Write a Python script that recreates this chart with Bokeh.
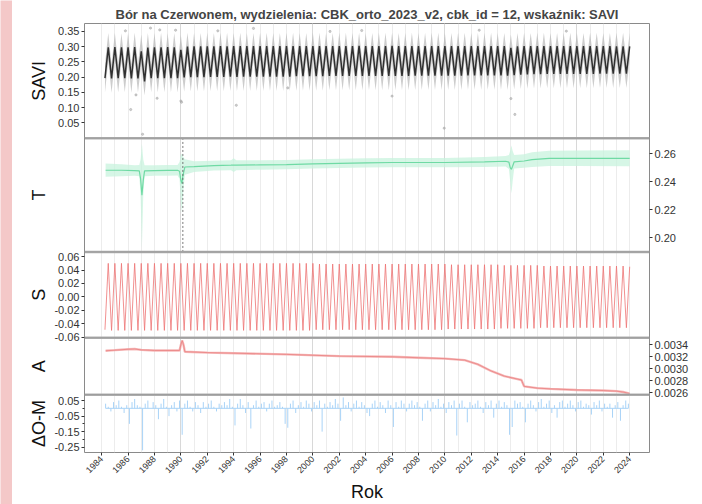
import math
import numpy as np
from bokeh.plotting import figure
from bokeh.layouts import column, row
from bokeh.core.properties import value
from bokeh.models import (FixedTicker, PrintfTickFormatter, LinearAxis, Grid, Range1d, Span,
                          BoxAnnotation, CustomJSTickFormatter)
from bokeh.embed import file_html
from bokeh.resources import INLINE

TITLE = "Bór na Czerwonem, wydzielenia: CBK_orto_2023_v2, cbk_id = 12, wskaźnik: SAVI"
FONT = "Liberation Sans"
PINK = "#f4c8c8"

year_ticks = list(range(1984, 2025, 2))
year_grid = list(range(1984, 2025))
decade_grid = [1990, 2000, 2010, 2020]

# seasonal extremes: trough, peak, trough, peak per year (from 1984.25, every quarter year)
ext_start = 1984.25
ext_step = 0.25

savi_fit_rows = [
    [0.197, 0.298, 0.196, 0.299], [0.197, 0.298, 0.197, 0.298], [0.196, 0.299, 0.196, 0.285],
    [0.186, 0.297, 0.197, 0.298], [0.197, 0.298, 0.197, 0.299], [0.197, 0.298, 0.197, 0.290],
    [0.199, 0.300, 0.200, 0.301], [0.200, 0.301, 0.200, 0.301], [0.201, 0.301, 0.201, 0.302],
    [0.201, 0.301, 0.202, 0.302], [0.201, 0.302, 0.202, 0.302], [0.202, 0.302, 0.202, 0.302],
    [0.202, 0.302, 0.202, 0.302], [0.202, 0.302, 0.202, 0.302], [0.202, 0.302, 0.203, 0.302],
    [0.203, 0.302, 0.203, 0.302], [0.203, 0.302, 0.203, 0.302], [0.204, 0.302, 0.204, 0.302],
    [0.204, 0.302, 0.204, 0.302], [0.204, 0.303, 0.204, 0.302], [0.204, 0.302, 0.204, 0.302],
    [0.204, 0.302, 0.204, 0.303], [0.204, 0.302, 0.204, 0.302], [0.204, 0.302, 0.205, 0.302],
    [0.205, 0.302, 0.205, 0.302], [0.205, 0.302, 0.205, 0.302], [0.205, 0.302, 0.205, 0.302],
    [0.205, 0.302, 0.206, 0.302], [0.206, 0.302, 0.206, 0.302], [0.206, 0.302, 0.206, 0.302],
    [0.206, 0.302, 0.205, 0.296], [0.207, 0.301, 0.208, 0.302], [0.209, 0.302, 0.210, 0.302],
    [0.210, 0.302, 0.211, 0.302], [0.211, 0.302, 0.211, 0.302], [0.211, 0.302, 0.211, 0.302],
    [0.211, 0.302, 0.211, 0.302], [0.211, 0.302, 0.212, 0.302], [0.212, 0.302, 0.212, 0.301],
    [0.212, 0.301, 0.212, 0.301],
]
savi_hi_rows = [
    [0.243, 0.345, 0.242, 0.346], [0.243, 0.344, 0.242, 0.345], [0.242, 0.346, 0.242, 0.340],
    [0.235, 0.345, 0.243, 0.345], [0.243, 0.346, 0.243, 0.344], [0.243, 0.345, 0.243, 0.338],
    [0.245, 0.346, 0.246, 0.345], [0.246, 0.345, 0.246, 0.346], [0.247, 0.345, 0.247, 0.346],
    [0.247, 0.346, 0.248, 0.345], [0.247, 0.346, 0.248, 0.345], [0.248, 0.345, 0.248, 0.346],
    [0.248, 0.346, 0.248, 0.345], [0.248, 0.345, 0.248, 0.346], [0.248, 0.346, 0.249, 0.345],
    [0.249, 0.345, 0.249, 0.346], [0.249, 0.346, 0.249, 0.345], [0.250, 0.345, 0.250, 0.346],
    [0.250, 0.346, 0.250, 0.345], [0.250, 0.346, 0.250, 0.345], [0.250, 0.345, 0.250, 0.346],
    [0.250, 0.346, 0.250, 0.346], [0.250, 0.345, 0.250, 0.345], [0.250, 0.346, 0.251, 0.345],
    [0.251, 0.345, 0.251, 0.346], [0.251, 0.346, 0.251, 0.345], [0.251, 0.345, 0.251, 0.346],
    [0.251, 0.346, 0.252, 0.345], [0.252, 0.345, 0.252, 0.346], [0.252, 0.346, 0.252, 0.345],
    [0.252, 0.345, 0.251, 0.340], [0.253, 0.345, 0.254, 0.346], [0.255, 0.345, 0.256, 0.346],
    [0.256, 0.346, 0.257, 0.345], [0.257, 0.345, 0.257, 0.346], [0.257, 0.346, 0.257, 0.345],
    [0.257, 0.345, 0.257, 0.346], [0.257, 0.346, 0.258, 0.345], [0.258, 0.345, 0.258, 0.346],
    [0.258, 0.346, 0.258, 0.345],
]
savi_lo_rows = [
    [0.150, 0.253, 0.149, 0.254], [0.150, 0.253, 0.151, 0.253], [0.149, 0.254, 0.150, 0.241],
    [0.140, 0.252, 0.151, 0.253], [0.150, 0.253, 0.151, 0.254], [0.151, 0.253, 0.150, 0.245],
    [0.152, 0.255, 0.153, 0.256], [0.153, 0.256, 0.153, 0.256], [0.154, 0.256, 0.154, 0.257],
    [0.154, 0.256, 0.155, 0.257], [0.154, 0.257, 0.155, 0.257], [0.155, 0.257, 0.155, 0.257],
    [0.155, 0.257, 0.155, 0.257], [0.155, 0.257, 0.155, 0.257], [0.155, 0.257, 0.156, 0.257],
    [0.156, 0.257, 0.156, 0.257], [0.156, 0.257, 0.156, 0.257], [0.157, 0.257, 0.157, 0.257],
    [0.157, 0.257, 0.157, 0.257], [0.157, 0.258, 0.157, 0.257], [0.157, 0.257, 0.157, 0.257],
    [0.157, 0.257, 0.157, 0.258], [0.157, 0.257, 0.157, 0.257], [0.157, 0.257, 0.158, 0.257],
    [0.158, 0.257, 0.158, 0.257], [0.158, 0.257, 0.158, 0.257], [0.158, 0.257, 0.158, 0.257],
    [0.158, 0.257, 0.159, 0.257], [0.159, 0.257, 0.159, 0.257], [0.159, 0.257, 0.159, 0.257],
    [0.159, 0.257, 0.158, 0.251], [0.160, 0.256, 0.161, 0.257], [0.162, 0.257, 0.163, 0.257],
    [0.163, 0.257, 0.164, 0.257], [0.164, 0.257, 0.164, 0.257], [0.164, 0.257, 0.164, 0.257],
    [0.164, 0.257, 0.164, 0.257], [0.164, 0.257, 0.165, 0.257], [0.165, 0.257, 0.165, 0.256],
    [0.165, 0.256, 0.165, 0.256],
]
s_rows = [
    [-0.049, 0.050, -0.050, 0.050], [-0.050, 0.050, -0.050, 0.050], [-0.050, 0.050, -0.050, 0.050],
    [-0.050, 0.050, -0.050, 0.050], [-0.050, 0.050, -0.050, 0.050], [-0.050, 0.050, -0.050, 0.050],
    [-0.050, 0.050, -0.050, 0.050], [-0.050, 0.050, -0.050, 0.050], [-0.050, 0.050, -0.050, 0.050],
    [-0.050, 0.050, -0.050, 0.050], [-0.050, 0.050, -0.050, 0.050], [-0.050, 0.050, -0.050, 0.050],
    [-0.050, 0.050, -0.050, 0.050], [-0.050, 0.050, -0.050, 0.050], [-0.050, 0.050, -0.050, 0.050],
    [-0.050, 0.050, -0.050, 0.050], [-0.049, 0.049, -0.049, 0.049], [-0.049, 0.049, -0.049, 0.049],
    [-0.049, 0.049, -0.049, 0.049], [-0.049, 0.049, -0.049, 0.049], [-0.049, 0.049, -0.049, 0.049],
    [-0.049, 0.049, -0.049, 0.049], [-0.049, 0.049, -0.049, 0.049], [-0.049, 0.049, -0.049, 0.049],
    [-0.049, 0.049, -0.049, 0.049], [-0.049, 0.049, -0.049, 0.049], [-0.048, 0.048, -0.048, 0.048],
    [-0.048, 0.048, -0.048, 0.048], [-0.048, 0.048, -0.048, 0.048], [-0.048, 0.048, -0.048, 0.048],
    [-0.047, 0.047, -0.047, 0.047], [-0.047, 0.047, -0.047, 0.047], [-0.047, 0.047, -0.047, 0.047],
    [-0.046, 0.046, -0.046, 0.046], [-0.046, 0.046, -0.046, 0.046], [-0.046, 0.046, -0.046, 0.046],
    [-0.046, 0.046, -0.046, 0.046], [-0.046, 0.046, -0.046, 0.046], [-0.046, 0.046, -0.046, 0.046],
    [-0.046, 0.046, -0.046, 0.045],
]

# single outlying pixel observations in the SAVI panel
savi_pt_t = [1986.2, 1986.6, 1987.1, 1987.7, 1988.2, 1988.4, 1990.0, 1990.05, 1994.2, 1995.5,
             1998.1, 2006.0, 2009.95, 2015.0, 2015.3, 1985.8, 1989.6, 1992.8, 2001.3, 2012.6,
             2019.2, 2003.7]
savi_pt_v = [0.094, 0.142, 0.013, 0.361, 0.131, 0.355, 0.122, 0.118, 0.108, 0.360,
             0.165, 0.138, 0.033, 0.130, 0.078, 0.352, 0.354, 0.352, 0.350, 0.354,
             0.351, 0.353]

# trend with confidence band
t_time = [1984.30, 1985.5, 1986.5, 1986.85, 1986.95, 1987.05, 1987.15, 1987.25, 1988.0, 1989.0,
          1989.75, 1989.9, 1990.0, 1990.08, 1990.15, 1990.3, 1991.0, 1992.5, 1993.8, 1994.0,
          1994.2, 1996.0, 1998.0, 2000.0, 2004.0, 2006.0, 2010.0, 2013.0, 2014.6, 2014.85,
          2014.95, 2015.04, 2015.13, 2015.25, 2016.0, 2016.6, 2017.9, 2020.0, 2024.0]
t_val = [0.2482, 0.2482, 0.2480, 0.2478, 0.2420, 0.2305, 0.2410, 0.2478, 0.2480, 0.2481,
         0.2482, 0.2475, 0.2410, 0.2388, 0.2440, 0.2505, 0.2508, 0.2515, 0.2518, 0.2519,
         0.2518, 0.2520, 0.2522, 0.2527, 0.2534, 0.2537, 0.2537, 0.2541, 0.2546, 0.2540,
         0.2500, 0.2489, 0.2510, 0.2542, 0.2548, 0.2558, 0.2567, 0.2567, 0.2567]
t_lo = [0.2435, 0.2440, 0.2442, 0.2440, 0.2300, 0.1930, 0.2300, 0.2440, 0.2442, 0.2443,
        0.2444, 0.2420, 0.2250, 0.2176, 0.2300, 0.2450, 0.2470, 0.2480, 0.2482, 0.2470,
        0.2482, 0.2486, 0.2489, 0.2494, 0.2501, 0.2504, 0.2504, 0.2506, 0.2508, 0.2490,
        0.2400, 0.2317, 0.2400, 0.2495, 0.2500, 0.2506, 0.2512, 0.2512, 0.2510]
t_hi = [0.2530, 0.2524, 0.2518, 0.2520, 0.2560, 0.2670, 0.2560, 0.2518, 0.2518, 0.2519,
        0.2520, 0.2540, 0.2590, 0.2600, 0.2580, 0.2560, 0.2546, 0.2550, 0.2554, 0.2568,
        0.2554, 0.2554, 0.2555, 0.2560, 0.2567, 0.2570, 0.2570, 0.2576, 0.2584, 0.2590,
        0.2620, 0.2659, 0.2620, 0.2590, 0.2596, 0.2610, 0.2620, 0.2622, 0.2624]
break_time = 1990.15

# amplitude
a_time = [1984.3, 1985.0, 1986.0, 1986.5, 1987.0, 1988.0, 1989.9, 1990.0, 1990.1, 1990.2,
          1990.3, 1992.0, 1995.0, 1998.0, 2002.0, 2006.0, 2008.0, 2010.0, 2011.5, 2012.5,
          2013.5, 2014.5, 2015.5, 2015.8, 2016.0, 2017.0, 2018.0, 2020.0, 2022.0, 2023.0,
          2023.5, 2024.0]
a_val = [0.003300, 0.003310, 0.003325, 0.003330, 0.003315, 0.003305, 0.003305, 0.003400, 0.003470, 0.003400,
         0.003285, 0.003270, 0.003255, 0.003240, 0.003212, 0.003200, 0.003185, 0.003170, 0.003145, 0.003075,
         0.002965, 0.002880, 0.002830, 0.002815, 0.002710, 0.002680, 0.002668, 0.002650, 0.002640, 0.002630,
         0.002615, 0.002590]

# residuals (observed - model), every 0.2 year from 1984.3
res_start = 1984.3
res_step = 0.2
res_rows = [
    [0.03, 0.01, -0.02, 0.04, 0.02], [0.05, 0.01, -0.03, 0.02, -0.10], [0.04, 0.06, 0.02, 0.01, -0.27],
    [0.03, 0.05, 0.00, 0.04, 0.02], [-0.07, 0.03, 0.06, 0.01, -0.05], [0.02, 0.04, -0.02, 0.05, -0.17],
    [0.03, 0.05, 0.01, -0.02, 0.04], [0.02, -0.03, 0.04, 0.01, 0.03], [0.05, 0.01, -0.02, 0.03, 0.02],
    [0.04, 0.02, 0.06, 0.01, -0.11], [0.03, 0.06, 0.02, -0.03, 0.04], [-0.13, 0.02, 0.05, 0.01, 0.03],
    [0.04, -0.02, 0.03, 0.05, 0.01], [0.02, 0.04, 0.01, -0.10, -0.125], [0.03, 0.05, -0.03, 0.02, 0.04],
    [0.01, 0.05, 0.03, -0.02, 0.04], [0.02, 0.05, -0.15, 0.03, 0.01], [0.04, 0.02, 0.06, 0.03, -0.08],
    [0.07, 0.02, 0.04, -0.02, 0.03], [0.05, 0.01, 0.04, 0.02, -0.03], [-0.05, 0.03, 0.05, 0.01, 0.04],
    [0.02, -0.03, 0.05, 0.02, -0.12], [0.04, 0.01, 0.05, 0.03, -0.02], [0.03, 0.05, 0.02, 0.04, 0.01],
    [-0.08, 0.03, 0.05, -0.02, 0.04], [0.02, 0.06, 0.01, 0.03, -0.03], [0.04, 0.02, 0.05, -0.175, 0.03],
    [0.05, 0.01, -0.09, 0.04, 0.02], [0.03, 0.05, 0.01, -0.03, 0.04], [0.02, 0.05, -0.06, 0.03, 0.05],
    [0.01, 0.04, 0.02, -0.17, -0.12], [0.05, 0.03, 0.04, 0.01, -0.09], [0.03, 0.05, 0.02, -0.02, 0.04],
    [0.06, 0.01, 0.03, 0.05, -0.03], [0.02, -0.06, 0.04, 0.05, 0.01], [0.03, 0.05, 0.02, -0.02, 0.04],
    [0.05, 0.01, 0.03, 0.02, -0.04], [0.04, 0.02, 0.05, -0.02, 0.03], [0.01, 0.03, -0.06, 0.02, 0.04],
    [-0.08, 0.02, 0.05, 0.03],
]

# axis ticks of each panel
savi_ticks = [0.05, 0.10, 0.15, 0.20, 0.25, 0.30, 0.35]
t_ticks = [0.20, 0.22, 0.24, 0.26]
s_ticks = [-0.06, -0.04, -0.02, 0.0, 0.02, 0.04, 0.06]
a_ticks = [0.0026, 0.0028, 0.0030, 0.0032, 0.0034]
r_ticks = [0.05, -0.05, -0.15, -0.25]
r_minor = [0.0, -0.10, -0.20]
panel_names = ["savi", "t", "s", "a", "r"]
panel_titles = ["SAVI", "T", "S", "A", "ΔO-M"]

savi_fit = [v for r in savi_fit_rows for v in r]
savi_hi = [v for r in savi_hi_rows for v in r]
savi_lo = [v for r in savi_lo_rows for v in r]
s_val = [v for r in s_rows for v in r]
ext_t = list(ext_start + ext_step * np.arange(len(savi_fit)))
res_v = [v for r in res_rows for v in r]
res_t = list(res_start + res_step * np.arange(len(res_v)))

# ---------------------------------------------------------------- layout
TW = 38                      # column holding the panel titles
W, H = 652, 501
BL, BR, BT, BB = 34, 53, 20, 51
FRAME_W = W - BL - BR
FRAME_H = H - BT - BB
X_START, X_END = 1982.7, 2025.5

# vertical band of each panel (in frame pixels from the bottom) and its value limits
bands = {"savi": (315, 430), "t": (201, 315), "s": (115, 201), "a": (58, 115), "r": (0, 58)}
limits = {"savi": (0.0, 0.376), "t": (0.190, 0.271), "s": (-0.061, 0.067),
          "a": (0.002572, 0.003516), "r": (-0.284, 0.088)}


def band_range(name):
    lo, hi = limits[name]
    b0, b1 = bands[name]
    k = (hi - lo) / (b1 - b0)
    return Range1d(lo - b0 * k, hi + (FRAME_H - b1) * k)


def to_px(name, v):
    lo, hi = limits[name]
    b0, b1 = bands[name]
    return b0 + (v - lo) * (b1 - b0) / (hi - lo)


p = figure(width=W, height=H, x_range=Range1d(X_START, X_END), y_range=Range1d(0, FRAME_H),
           output_backend="svg", toolbar_location=None, y_axis_location=None,
           min_border_left=BL, min_border_right=BR, min_border_top=BT, min_border_bottom=BB)
p.extra_y_ranges = {name: band_range(name) for name in bands}
p.outline_line_color = "#8a8a8a"
p.outline_line_width = 1
p.background_fill_color = "white"
p.border_fill_color = "white"
p.grid.visible = False
p.add_layout(Grid(dimension=0, ticker=FixedTicker(ticks=year_grid),
                  grid_line_color="#ececec", grid_line_width=1))
p.add_layout(Grid(dimension=0, ticker=FixedTicker(ticks=decade_grid),
                  grid_line_color="#d8d8d8", grid_line_width=1))

p.title.text = TITLE
p.title.align = "center"
p.title.text_font = FONT
p.title.text_font_size = "13px"
p.title.text_font_style = "bold"
p.title.standoff = 3


def style_axis(ax):
    ax.axis_line_color = None
    ax.major_tick_line_color = "#333333"
    ax.major_tick_out = 3
    ax.major_tick_in = 0
    ax.minor_tick_line_color = "#333333"
    ax.minor_tick_out = 2
    ax.minor_tick_in = 0
    ax.major_label_text_font = FONT
    ax.major_label_text_font_size = "11px"
    ax.major_label_text_color = "#333333"
    ax.major_label_standoff = 2
    ax.axis_label_text_font = FONT
    ax.axis_label_text_font_size = "18px"
    ax.axis_label_text_font_style = "normal"
    ax.axis_label_text_color = "#111111"


NEAREST = """
let best = ""; let bd = Infinity;
for (let i = 0; i < pos.length; i++) {
  const d = Math.abs(pos[i] - tick);
  if (d < bd) { bd = d; best = lab[i]; }
}
return best;
"""

left_pos, left_lab = [], []
for name, ticks in (("savi", savi_ticks), ("s", s_ticks), ("r", r_ticks)):
    for v in ticks:
        left_pos.append(to_px(name, v))
        left_lab.append("%.2f" % v)
left_minor = [to_px("r", v) for v in r_minor]
right_pos, right_lab = [], []
for v in t_ticks:
    right_pos.append(to_px("t", v))
    right_lab.append("%.2f" % v)
for v in a_ticks:
    right_pos.append(to_px("a", v))
    right_lab.append("%.4f" % v)

lax = LinearAxis(ticker=FixedTicker(ticks=left_pos, minor_ticks=left_minor),
                 formatter=CustomJSTickFormatter(args=dict(pos=left_pos, lab=left_lab), code=NEAREST))
style_axis(lax)
p.add_layout(lax, "left")
rax = LinearAxis(ticker=FixedTicker(ticks=right_pos),
                 formatter=CustomJSTickFormatter(args=dict(pos=right_pos, lab=right_lab), code=NEAREST))
style_axis(rax)
p.add_layout(rax, "right")

xa = p.xaxis[0]
xa.ticker = FixedTicker(ticks=year_ticks)
xa.formatter = PrintfTickFormatter(format="%d")
style_axis(xa)
xa.axis_label = "Rok"
xa.axis_label_standoff = 3
xa.major_label_orientation = math.pi / 4
xa.major_label_text_font_size = "9px"

# panel frames
for b in (58, 115, 201, 315):
    p.add_layout(Span(location=b, dimension="width", line_color="#b0b0b0", line_width=2.5))
for name in bands:
    b0, b1 = bands[name]
    p.add_layout(BoxAnnotation(bottom=b0, top=b1, fill_alpha=0, line_color="#8a8a8a", line_width=1))

# 1. SAVI
p.varea(x=ext_t, y1=savi_lo, y2=savi_hi, color="#b8b8b8", alpha=0.7, y_range_name="savi")
p.line(ext_t, savi_fit, line_color="#303030", line_width=1.5, y_range_name="savi")
p.scatter(savi_pt_t, savi_pt_v, size=2.2, color="#a8a8a8", alpha=0.55, y_range_name="savi")

# 2. Trend
p.varea(x=t_time, y1=t_lo, y2=t_hi, color="#c8f3dd", alpha=0.75, y_range_name="t")
p.line(t_time, t_val, line_color="#6fdaa4", line_width=1.2, y_range_name="t")
p.segment(x0=[break_time], y0=[limits["t"][0]], x1=[break_time], y1=[limits["t"][1]],
          line_color="#555555", line_dash="2 2", line_width=0.8, y_range_name="t")

# 3. Season
p.line(ext_t, s_val, line_color="#ee7474", line_width=0.8, y_range_name="s")

# 4. Amplitude
p.line(a_time, a_val, line_color="#f4a9a9", line_width=2.4, alpha=0.8, y_range_name="a")
p.line(a_time, a_val, line_color="#ea8080", line_width=0.8, y_range_name="a")

# 5. Residuals
p.line([res_t[0], res_t[-1]], [0, 0], line_color="#a9d3f7", line_width=1, y_range_name="r")
p.segment(x0=res_t, y0=[0] * len(res_t), x1=res_t, y1=res_v, line_color="#a9d3f7",
          line_width=1, y_range_name="r")

# column with the panel titles (same vertical frame as the main figure)
pt = figure(width=TW, height=H, x_range=Range1d(0, TW), y_range=Range1d(0, FRAME_H),
            output_backend="svg", toolbar_location=None, x_axis_location=None,
            y_axis_location=None, min_border_left=0, min_border_right=0,
            min_border_top=BT, min_border_bottom=BB)
pt.outline_line_color = None
pt.grid.visible = False
pt.background_fill_color = "white"
pt.border_fill_color = "white"
pt.text(x=[26] * len(panel_names), y=[(bands[n][0] + bands[n][1]) / 2 for n in panel_names],
        text=panel_titles, angle=math.pi / 2, text_align="center", text_baseline="middle",
        text_font=value(FONT), text_font_size=value("18px"), text_color="#111111")


def strip(w, h):
    s = figure(width=w, height=h, output_backend="svg", toolbar_location=None,
               x_axis_location=None, y_axis_location=None, min_border=0,
               x_range=Range1d(0, 1), y_range=Range1d(0, 1))
    s.outline_line_color = None
    s.background_fill_color = PINK
    s.border_fill_color = PINK
    s.grid.visible = False
    return s


left_strip = strip(12, 504)
top_strip = strip(TW + W, 3)

layout = row(left_strip, column(top_strip, row(pt, p)))
open("out.html", "w").write(file_html(layout, INLINE))
